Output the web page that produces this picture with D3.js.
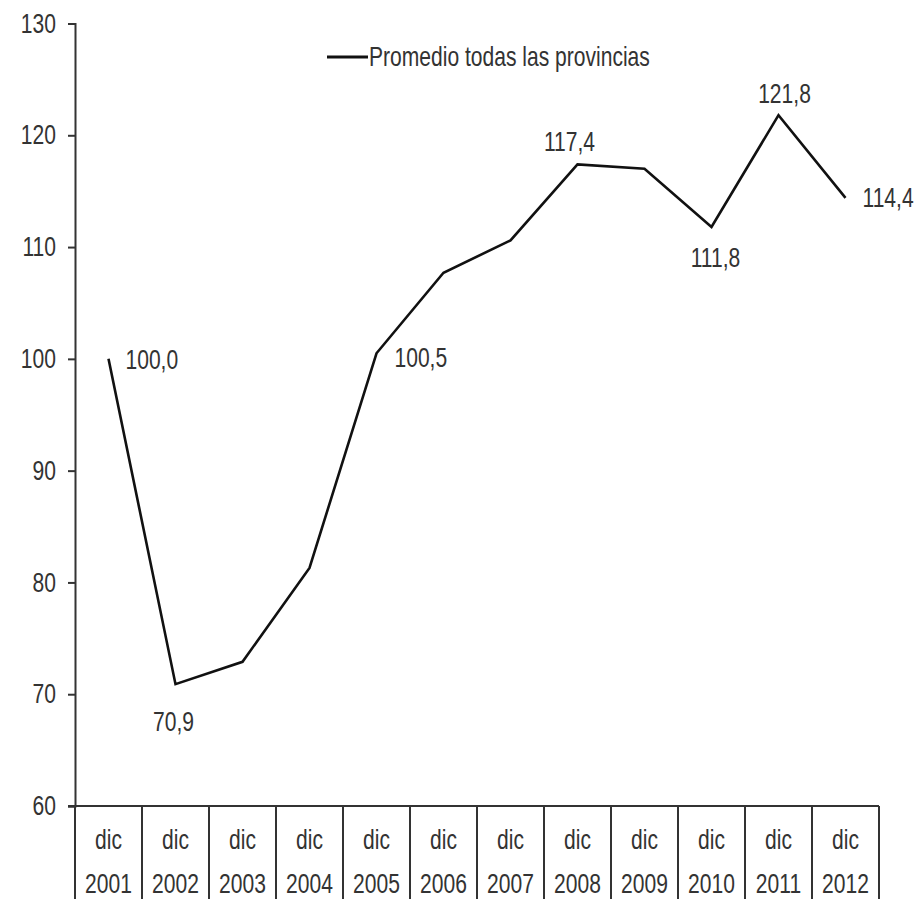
<!DOCTYPE html>
<html>
<head>
<meta charset="utf-8">
<script src="https://cdn.jsdelivr.net/npm/d3@7"></script>
<style>
  html, body { margin: 0; padding: 0; background: #fff; }
  text { font-family: "Liberation Sans Narrow", "Arial Narrow", "Liberation Sans", sans-serif; fill: #333; }
</style>
</head>
<body>
<svg id="chart" width="918" height="899"></svg>
<script>
const categoriesTop = ["dic","dic","dic","dic","dic","dic","dic","dic","dic","dic","dic","dic"];
const years = ["2001","2002","2003","2004","2005","2006","2007","2008","2009","2010","2011","2012"];
const values = [100.0, 70.9, 72.9, 81.3, 100.5, 107.7, 110.6, 117.4, 117.0, 111.8, 121.8, 114.4];
const yTicks = [60, 70, 80, 90, 100, 110, 120, 130];
const seriesName = "Promedio todas las provincias";
const labelYears = ["2001","2002","2005","2008","2010","2011","2012"];
const labelTexts = ["100,0","70,9","100,5","117,4","111,8","121,8","114,4"];

(function () {
const svg = d3.select("#chart");
const pLeft = 75, pRight = 879, pTop = 23.5, pBottom = 806;
const fs = 27;
const sx = 0.78; // horizontal condensing to mimic a narrow font

const x = d3.scaleBand().domain(years).range([pLeft, pRight]).padding(0);
const y = d3.scaleLinear().domain([60, 130]).range([pBottom, pTop]);

// Y axis
const yAxis = d3.axisLeft(y).tickValues(yTicks).tickSize(7).tickPadding(12).tickFormat(d3.format("d"));
const gy = svg.append("g").attr("transform", `translate(${pLeft},0)`).call(yAxis);
gy.select(".domain").attr("stroke", "#333").attr("stroke-width", 2);
gy.selectAll(".tick line").attr("stroke", "#333").attr("stroke-width", 2);
gy.selectAll(".tick text").attr("font-size", fs).attr("fill", "#333")
  .style("font-family", "'Liberation Sans Narrow','Arial Narrow','Liberation Sans',sans-serif");

// X axis baseline
svg.append("line").attr("x1", pLeft - 7).attr("x2", pRight).attr("y1", pBottom).attr("y2", pBottom)
  .attr("stroke", "#333").attr("stroke-width", 2);

// category dividers (table style)
const edges = years.map(d => x(d)).concat([x(years[years.length - 1]) + x.bandwidth()]);
svg.append("g").selectAll("line").data(edges).join("line")
  .attr("x1", d => d).attr("x2", d => d).attr("y1", pBottom).attr("y2", 899)
  .attr("stroke", "#333").attr("stroke-width", 2);

// category labels
const gc = svg.append("g");
gc.selectAll("text.top").data(years).join("text").attr("class", "top")
  .attr("x", (d) => x(d) + x.bandwidth() / 2).attr("y", 849)
  .attr("text-anchor", "middle").attr("font-size", fs)
  .text((d, i) => categoriesTop[i]);
gc.selectAll("text.yr").data(years).join("text").attr("class", "yr")
  .attr("x", d => x(d) + x.bandwidth() / 2).attr("y", 893)
  .attr("text-anchor", "middle").attr("font-size", fs)
  .text(d => d);

// line
const line = d3.line().x((d, i) => x(years[i]) + x.bandwidth() / 2).y(d => y(d));
svg.append("path").datum(values).attr("d", line)
  .attr("fill", "none").attr("stroke", "#111").attr("stroke-width", 2.6)
  .attr("stroke-linejoin", "miter");

// data labels
const offsets = {
  "2001": [17, 1, "start"], "2002": [-2, 37, "middle"], "2005": [18, 4, "start"],
  "2008": [-8, -23, "middle"], "2010": [4, 31, "middle"], "2011": [6, -22, "middle"], "2012": [17, 0, "start"]
};
svg.append("g").selectAll("text").data(labelYears).join("text")
  .attr("x", d => x(d) + x.bandwidth() / 2 + offsets[d][0])
  .attr("y", (d) => y(values[years.indexOf(d)]) + offsets[d][1])
  .attr("dy", "0.35em")
  .attr("text-anchor", d => offsets[d][2])
  .attr("font-size", fs)
  .text((d, i) => labelTexts[i]);

// legend
svg.append("line").attr("x1", 327).attr("x2", 368).attr("y1", 57).attr("y2", 57)
  .attr("stroke", "#111").attr("stroke-width", 3);
svg.append("text").attr("x", 369).attr("y", 57).attr("dy", "0.35em").attr("font-size", fs)
  .text(seriesName);

// condense all texts horizontally
svg.selectAll("text").each(function () {
  const t = d3.select(this);
  const xv = +(t.attr("x") || 0);
  t.attr("x", xv / sx).attr("transform", `scale(${sx},1)`);
});
})();
</script>
</body>
</html>
